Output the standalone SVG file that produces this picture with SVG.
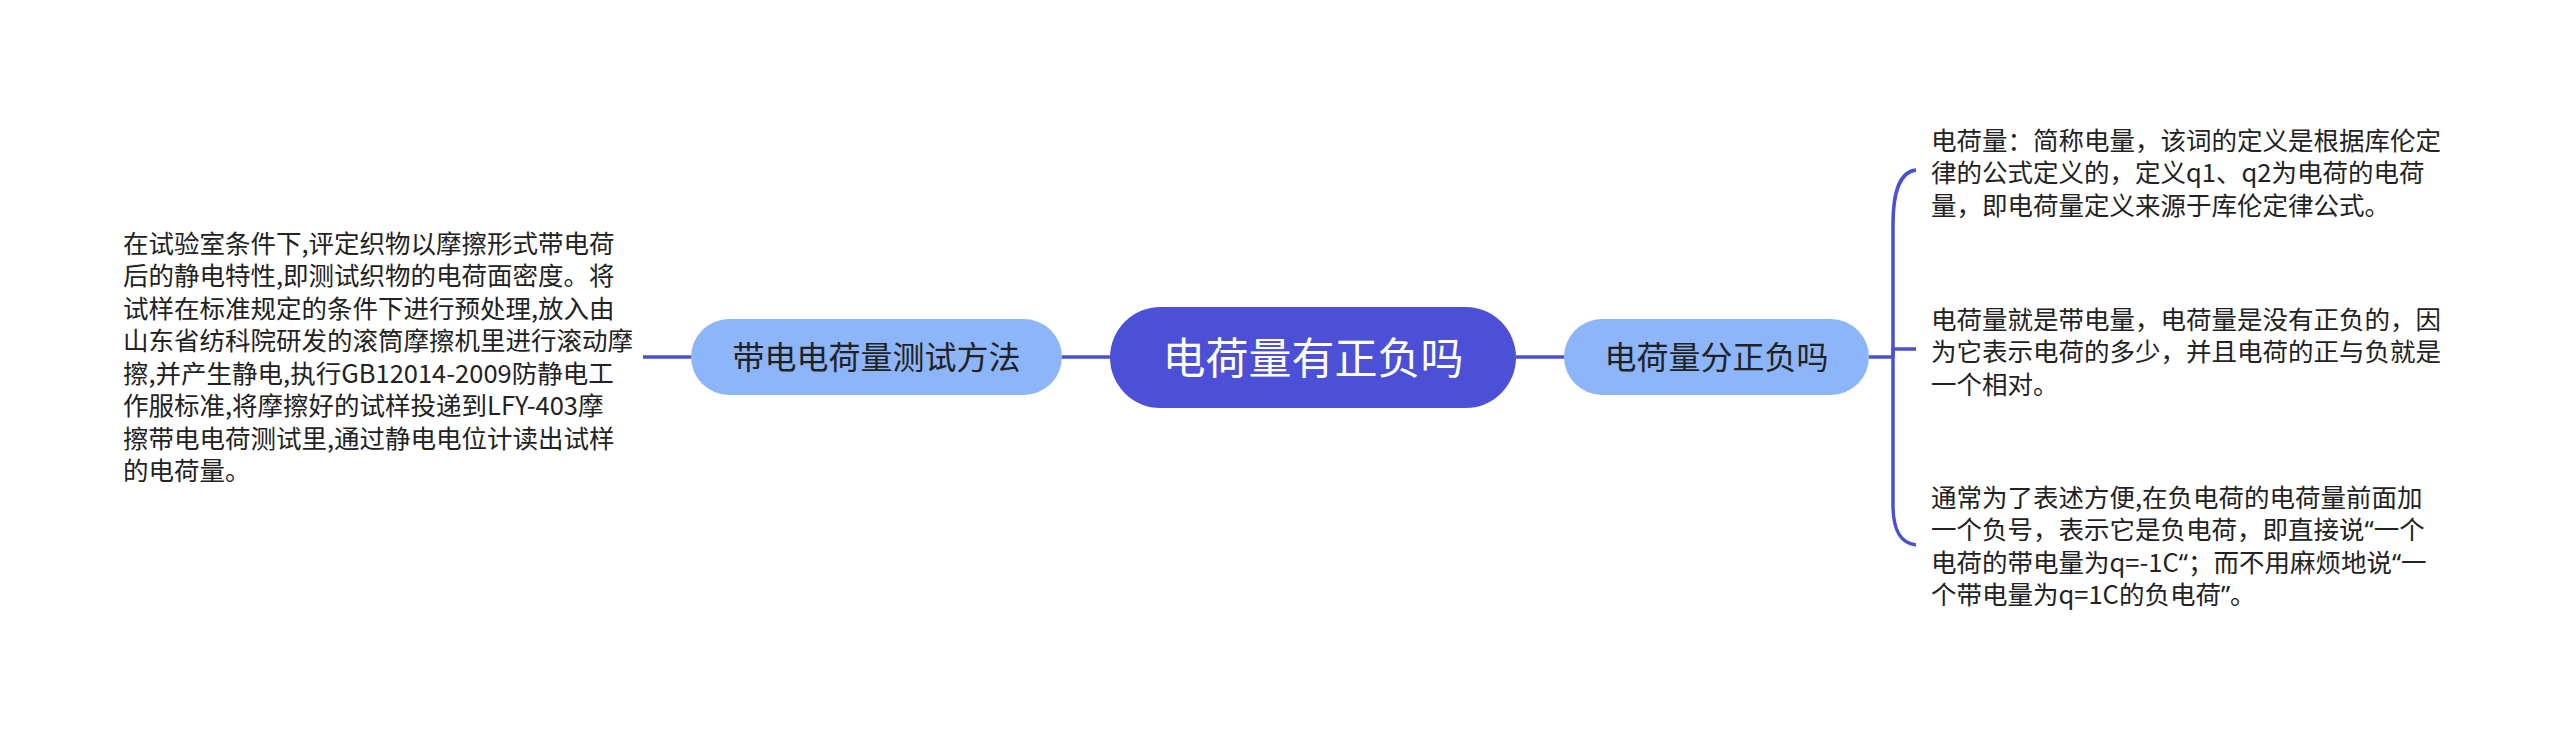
<svg xmlns="http://www.w3.org/2000/svg" width="2560" height="731" viewBox="0 0 2560 731">
<style>
.leaf{font-family:"Noto Sans CJK SC","Noto Sans",sans-serif;font-size:25.5px;fill:#222222;}
.sub{font-family:"Noto Sans CJK SC","Noto Sans",sans-serif;font-size:32px;fill:#222222;text-anchor:middle;}
.root{font-family:"Noto Sans CJK SC","Noto Sans",sans-serif;font-size:43px;fill:#ffffff;text-anchor:middle;}
.q{font-family:"Noto Sans","Noto Sans CJK SC",sans-serif;}
.line{fill:none;stroke:#4B4FD4;stroke-width:3.5;}
</style>
<rect width="2560" height="731" fill="#ffffff"/>
<g id="connectors">
<path class="line" d="M643 357 L691 357"/>
<path class="line" d="M1062 357 L1110 357"/>
<path class="line" d="M1516 357 L1564 357"/>
<path class="line" d="M1869 357 L1893 357"/>
<path class="line" d="M1893 357 L1893 225 C1893 190 1900 172 1916 170"/>
<path class="line" d="M1893 357 L1893 349 L1916 349"/>
<path class="line" d="M1893 357 L1893 505 C1893 530 1900 543 1916 545"/>
</g>
<g id="root">
<rect x="1110" y="307" width="406" height="101" rx="50.5" fill="#4B50D6"/>
<text class="root" x="1313" y="373.5">电荷量有正负吗</text>
</g>
<g id="left-branch">
<rect x="691" y="319" width="371" height="76" rx="38" fill="#8DB5F9"/>
<text class="sub" x="876.5" y="369">带电电荷量测试方法</text>
</g>
<g id="right-branch">
<rect x="1564" y="319" width="305" height="76" rx="38" fill="#8DB5F9"/>
<text class="sub" x="1716.5" y="369">电荷量分正负吗</text>
</g>
<g id="left-leaf">
<text class="leaf">
<tspan x="123" y="252.5">在试验室条件下,评定织物以摩擦形式带电荷</tspan>
<tspan x="123" y="285">后的静电特性,即测试织物的电荷面密度。将</tspan>
<tspan x="123" y="317.5">试样在标准规定的条件下进行预处理,放入由</tspan>
<tspan x="123" y="350">山东省纺科院研发的滚筒摩擦机里进行滚动摩</tspan>
<tspan x="123" y="382.5">擦,并产生静电,执行GB12014-2009防静电工</tspan>
<tspan x="123" y="415">作服标准,将摩擦好的试样投递到LFY-403摩</tspan>
<tspan x="123" y="447.5">擦带电电荷测试里,通过静电电位计读出试样</tspan>
<tspan x="123" y="480">的电荷量。</tspan>
</text>
</g>
<g id="right-leaf-1">
<text class="leaf">
<tspan x="1931" y="149.5">电荷量：简称电量，该词的定义是根据库伦定</tspan>
<tspan x="1931" y="182">律的公式定义的，定义q1、q2为电荷的电荷</tspan>
<tspan x="1931" y="214.5">量，即电荷量定义来源于库伦定律公式。</tspan>
</text>
</g>
<g id="right-leaf-2">
<text class="leaf">
<tspan x="1931" y="328.5">电荷量就是带电量，电荷量是没有正负的，因</tspan>
<tspan x="1931" y="361">为它表示电荷的多少，并且电荷的正与负就是</tspan>
<tspan x="1931" y="393.5">一个相对。</tspan>
</text>
</g>
<g id="right-leaf-3">
<text class="leaf">
<tspan x="1931" y="506.5">通常为了表述方便,在负电荷的电荷量前面加</tspan>
<tspan x="1931" y="539">一个负号，表示它是负电荷，即直接说<tspan class="q">“</tspan>一个</tspan>
<tspan x="1931" y="571.5">电荷的带电量为q=-1C<tspan class="q">“</tspan>；而不用麻烦地说<tspan class="q">“</tspan>一</tspan>
<tspan x="1931" y="604">个带电量为q=1C的负电荷<tspan class="q">”</tspan>。</tspan>
</text>
</g>
</svg>
